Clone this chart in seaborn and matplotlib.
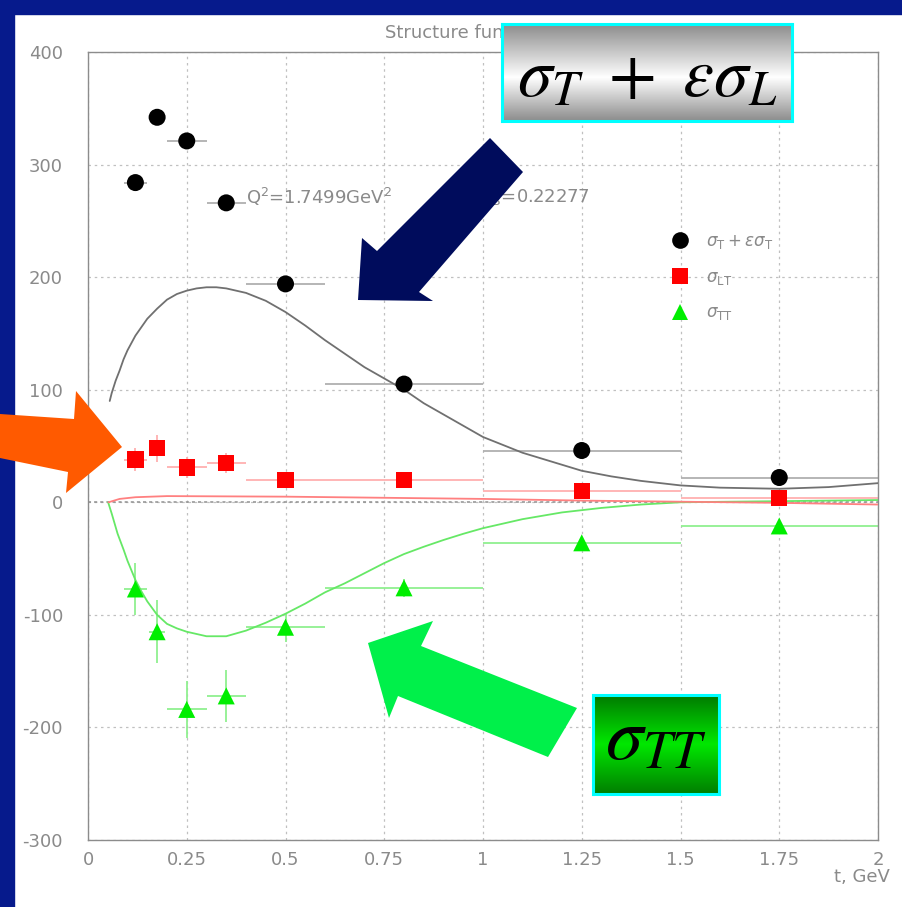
import numpy as np
import pandas as pd
import matplotlib
matplotlib.use("Agg")
import matplotlib.pyplot as plt
import seaborn as sns
from matplotlib.patches import Polygon, Rectangle
from matplotlib.lines import Line2D
from matplotlib.ticker import MultipleLocator
from matplotlib.colors import LinearSegmentedColormap

# ---------------- data ----------------
t_points = [0.12, 0.175, 0.25, 0.35, 0.5, 0.8, 1.25, 1.75]
t_err = [0.03, 0.02, 0.05, 0.05, 0.1, 0.2, 0.25, 0.25]

sig_tl = [284, 342, 321, 266, 194, 105, 46, 22]
sig_tl_err = [5, 7, 4, 4, 3, 3, 3, 3]
sig_lt = [38, 48, 31, 35, 20, 20, 10, 4]
sig_lt_err = [10, 12, 9, 9, 4, 3, 3, 3]
sig_tt = [-77, -115, -184, -172, -111, -76, -36, -21]
sig_tt_err = [23, 28, 25, 23, 13, 8, 3, 3]

curve_tl_t = [0.055, 0.06, 0.07, 0.08, 0.09, 0.1, 0.12, 0.15, 0.175, 0.2, 0.225, 0.25,
              0.275, 0.3, 0.325, 0.35, 0.4, 0.45, 0.5, 0.55, 0.6, 0.65, 0.7, 0.75,
              0.8, 0.85, 0.9, 0.95, 1.0, 1.05, 1.1, 1.175, 1.25, 1.325, 1.4, 1.5,
              1.6, 1.75, 1.875, 2.0]
curve_tl_v = [90, 97, 108, 117, 127, 135, 148, 163, 172, 180, 185, 188,
              190, 191, 191, 190, 186, 179, 169, 157, 144, 132, 120, 110,
              100, 88, 78, 68, 58, 51, 44, 36, 28, 23, 19, 15,
              13, 12, 13.5, 17]

curve_tt_t = [0.051, 0.06, 0.075, 0.09, 0.1, 0.12, 0.135, 0.15, 0.175, 0.2, 0.225, 0.25,
              0.275, 0.3, 0.35, 0.4, 0.45, 0.5, 0.55, 0.6, 0.65, 0.7, 0.75, 0.8,
              0.85, 0.9, 0.95, 1.0, 1.05, 1.1, 1.2, 1.25, 1.3, 1.4, 1.5, 1.75, 2.0]
curve_tt_v = [0, -10, -28, -42, -52, -69, -79, -88, -100, -108, -112, -115,
              -117, -119, -119, -114, -107, -99, -90, -80, -72, -63, -54, -46,
              -39.5, -33.5, -28, -23, -19, -15, -9, -7, -5, -2, 0, 1, 2]

curve_lt_t = [0.052, 0.08, 0.12, 0.2, 0.5, 0.75, 1.0, 1.25, 1.5, 1.75, 2.0]
curve_lt_v = [0, 3, 4.5, 5.5, 5, 4, 3, 1.5, 0.5, -0.5, -2]

x_ticks = [0, 0.25, 0.5, 0.75, 1, 1.25, 1.5, 1.75, 2]
x_tick_labels = ["0", "0.25", "0.5", "0.75", "1", "1.25", "1.5", "1.75", "2"]
y_ticks = [-300, -200, -100, 0, 100, 200, 300, 400]

legend_labels = [r"$\sigma_{\mathrm{T}}+\varepsilon\sigma_{\mathrm{T}}$",
                 r"$\sigma_{\mathrm{LT}}$", r"$\sigma_{\mathrm{TT}}$"]

# ---------------- figure ----------------
sns.set_style("white")
plt.rcParams["font.family"] = ["DejaVu Sans"]
plt.rcParams["axes.unicode_minus"] = False

W, H = 903, 907
fig = plt.figure(figsize=(W / 100, H / 100), dpi=100)
fig.patch.set_facecolor("white")


def P(x, y):
    return (x / W, 1 - y / H)


ax = fig.add_axes([88 / W, 67 / H, 790 / W, 788 / H])
ax.set_facecolor("white")

GREY = "#8a8a8a"

df_tl = pd.DataFrame({"t": t_points, "v": sig_tl})
df_lt = pd.DataFrame({"t": t_points, "v": sig_lt})
df_tt = pd.DataFrame({"t": t_points, "v": sig_tt})

# curves
sns.lineplot(x=curve_tl_t, y=curve_tl_v, sort=False, estimator=None, color="#707070", lw=1.3, ax=ax, zorder=3)
sns.lineplot(x=curve_tt_t, y=curve_tt_v, sort=False, estimator=None, color="#66e866", lw=1.3, ax=ax, zorder=3)
sns.lineplot(x=curve_lt_t, y=curve_lt_v, sort=False, estimator=None, color="#ff8080", lw=1.3, ax=ax, zorder=3)

# error bars
ax.errorbar(t_points, sig_tl, xerr=t_err, yerr=sig_tl_err, fmt="none", ecolor="#b0b0b0", elinewidth=1.3, capsize=0, zorder=2)
ax.errorbar(t_points, sig_lt, xerr=t_err, yerr=sig_lt_err, fmt="none", ecolor="#ffb0b0", elinewidth=1.3, capsize=0, zorder=2)
ax.errorbar(t_points, sig_tt, xerr=t_err, yerr=sig_tt_err, fmt="none", ecolor="#90f090", elinewidth=1.3, capsize=0, zorder=2)

# markers
sns.scatterplot(data=df_tl, x="t", y="v", marker="o", s=150, color="black", edgecolor="none", ax=ax, zorder=4, legend=False)
sns.scatterplot(data=df_lt, x="t", y="v", marker="s", s=140, color="#ff0000", edgecolor="none", ax=ax, zorder=4, legend=False)
sns.scatterplot(data=df_tt, x="t", y="v", marker="^", s=150, color="#00ee00", edgecolor="none", ax=ax, zorder=4, legend=False)

ax.set_xlim(0, 2)
ax.set_ylim(-300, 400)
ax.set_xlabel("")
ax.set_ylabel("")
ax.set_xticks(x_ticks)
ax.set_xticklabels(x_tick_labels)
ax.set_yticks(y_ticks)
ax.xaxis.set_minor_locator(MultipleLocator(0.125))
ax.yaxis.set_minor_locator(MultipleLocator(25))
ax.tick_params(axis="both", which="major", direction="in", length=12, width=0.9, color="#888888",
               labelcolor=GREY, labelsize=13)
ax.tick_params(axis="both", which="minor", direction="in", length=7, width=0.9, color="#888888")
ax.tick_params(axis="y", which="major", pad=18)
ax.tick_params(axis="x", which="major", pad=8)
ax.grid(True, which="major", color="#c0c0c0", linestyle=(0, (2, 3)), linewidth=0.9)
ax.axhline(0, color="#909090", linestyle=(0, (2, 2)), linewidth=1.1, zorder=1)
for s in ax.spines.values():
    s.set_color("#8c8c8c")
    s.set_linewidth(1.0)

# texts
ax.text(0.4, 271, r"Q$^{2}$=1.7499GeV$^{2}$", color=GREY, fontsize=13, va="center", ha="left", zorder=5)
ax.text(0.995, 271, r"x$_{\mathregular{B}}$=0.22277", color=GREY, fontsize=13, va="center", ha="left", zorder=5)
fig.text(*P(385, 33), "Structure functions", color=GREY, fontsize=13, va="center", ha="left", zorder=1)
fig.text(*P(890, 877), "t, GeV", color=GREY, fontsize=13, va="center", ha="right")

# legend
handles = [
    Line2D([], [], marker="o", linestyle="none", color="black", markersize=12, markeredgewidth=0),
    Line2D([], [], marker="s", linestyle="none", color="#ff0000", markersize=11, markeredgewidth=0),
    Line2D([], [], marker="^", linestyle="none", color="#00ee00", markersize=12, markeredgewidth=0),
]
leg = ax.legend(handles, legend_labels, loc="upper left", bbox_to_anchor=P(668, 232),
                bbox_transform=fig.transFigure, frameon=False, fontsize=12, labelspacing=1.0,
                handlelength=1.4, handletextpad=0.9, borderpad=0, borderaxespad=0)
for txt in leg.get_texts():
    txt.set_color(GREY)

# blue frame
BLUE = "#061a8c"
fig.add_artist(Rectangle((0, 0), 14 / W, 1, transform=fig.transFigure, color=BLUE, zorder=6))
fig.add_artist(Rectangle((0, 1 - 14 / H), 1, 14 / H, transform=fig.transFigure, color=BLUE, zorder=6))


def poly(pts, color, z=20):
    fig.add_artist(Polygon([P(x, y) for x, y in pts], closed=True, transform=fig.transFigure,
                           facecolor=color, edgecolor="none", zorder=z))


# arrows
poly([(358, 300), (362, 238), (377, 251), (490, 138), (523, 172), (419, 292), (433, 301)], "#000c5c")
poly([(0, 414), (74, 419), (76, 391), (122, 447), (66, 493), (68, 472), (0, 458)], "#ff5a00")
poly([(368, 643), (433, 621), (421, 646), (577, 708), (548, 757), (398, 696), (389, 718)], "#00f04a")

# gradient boxes
grey_cmap = LinearSegmentedColormap.from_list("g", [(0, "#8c8c8c"), (0.55, "#ffffff"), (1, "#8c8c8c")])
green_cmap = LinearSegmentedColormap.from_list("gr", [(0, "#007800"), (0.5, "#00e800"), (1, "#007e00")])
grad = np.linspace(0, 1, 256).reshape(-1, 1)


def grad_box(x0, y0, x1, y1, cmap, label, size, tx=0.5, ty=0.5):
    bx = fig.add_axes([x0 / W, 1 - y1 / H, (x1 - x0) / W, (y1 - y0) / H])
    bx.imshow(grad, aspect="auto", cmap=cmap, extent=[0, 1, 0, 1], origin="upper")
    bx.set_xticks([])
    bx.set_yticks([])
    for s in bx.spines.values():
        s.set_color("#00ffff")
        s.set_linewidth(2.2)
    bx.set_zorder(15)
    bx.text(tx, ty, label, ha="center", va="center", fontsize=size, color="black",
            math_fontfamily="stix", transform=bx.transAxes)
    return bx


grad_box(502, 24, 792, 121, grey_cmap, r"$\sigma_{T}\ +\ \varepsilon\sigma_{L}$", 50, 0.5, 0.46)
grad_box(593, 695, 719, 794, green_cmap, r"$\sigma_{TT}$", 54, 0.5, 0.56)

fig.savefig("out.png", dpi=100)
